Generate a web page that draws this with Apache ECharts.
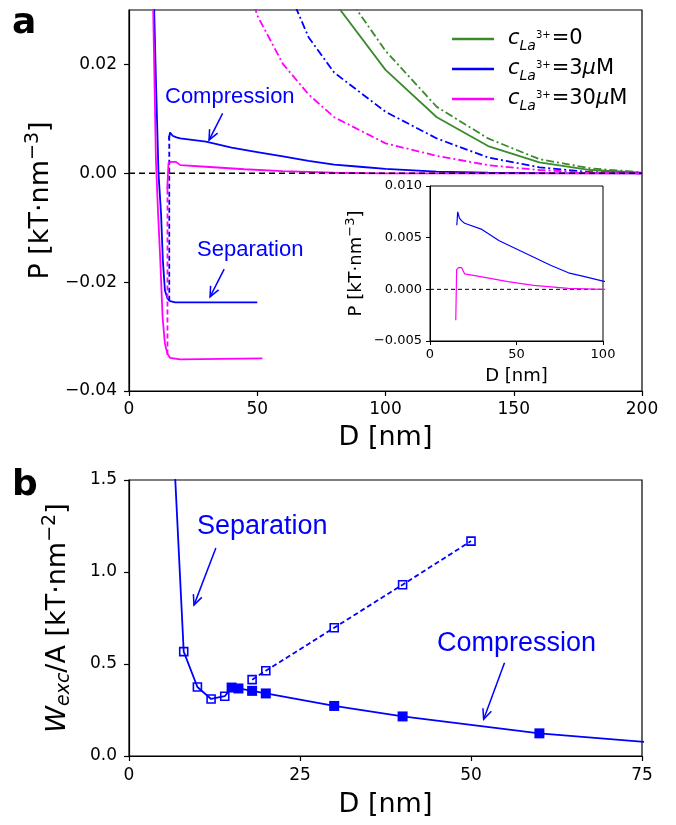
<!DOCTYPE html>
<html><head><meta charset="utf-8">
<script src="https://cdn.jsdelivr.net/npm/echarts@6/dist/echarts.min.js"></script>
<style>html,body{margin:0;padding:0;background:#fff}#c{width:676px;height:825px}</style>
</head><body><div id="c"></div>
<script>
// ---------- data: panel a (pressure P vs separation D) ----------
const aXTicks = [0, 50, 100, 150, 200];
const aYTicks = [-0.04, -0.02, 0, 0.02];
const insetXTicks = [0, 50, 100];
const insetYTicks = [-0.005, 0, 0.005, 0.010];

const greenSolidD = [80, 100, 120, 140, 160, 180, 200];
const greenSolidP = [0.0315, 0.019, 0.0103, 0.005, 0.002, 0.0006, 0.0001];
const greenDashD = [80, 100, 120, 140, 160, 180, 200];
const greenDashP = [0.036, 0.0225, 0.0122, 0.0064, 0.0026, 0.0009, 0.0002];
const blueDashD = [60, 70, 80, 100, 120, 140, 160, 180, 200];
const blueDashP = [0.036, 0.025, 0.0185, 0.0113, 0.0064, 0.0029, 0.0011, 0.0002, 0];
const magDashD = [40, 50, 60, 70, 80, 100, 120, 140, 160, 180, 200];
const magDashP = [0.045, 0.029, 0.0201, 0.0145, 0.0103, 0.0055, 0.0032, 0.0015, 0.0006, 0.0001, 0];

const blueCompD = [15.5, 16, 17, 18.5, 20, 30, 40, 50, 60, 70, 80, 90, 100, 120, 140, 160, 200];
const blueCompP = [0.0062, 0.0075, 0.0069, 0.0066, 0.0064, 0.0058, 0.0047, 0.0039, 0.0031, 0.0023, 0.0016, 0.0012, 0.0008, 0.0003, 0.0001, 0.00003, 0];
const magCompD = [14.9, 15.4, 16.5, 18.3, 20, 30, 45, 60, 80, 100, 200];
const magCompP = [-0.003, 0.0019, 0.0021, 0.0021, 0.0015, 0.0012, 0.00074, 0.00038, 0.0001, 0, 0];

const blueSepD = [9.5, 10.5, 11.5, 12.5, 13.2, 14, 15, 16, 18, 50];
const blueSepP = [0.036, 0.017, 0.0, -0.0075, -0.016, -0.0215, -0.023, -0.0235, -0.0237, -0.0237];
const magSepD = [9.2, 10.5, 11.3, 12.2, 13.1, 14, 15, 16, 20, 52];
const magSepP = [0.036, 0.0024, -0.007, -0.016, -0.0265, -0.0313, -0.0332, -0.0339, -0.0342, -0.034];

const blueJumpD = [15.7, 15.7];
const blueJumpP = [0.0069, -0.0234];
const magJumpD = [15.0, 15.0];
const magJumpP = [-0.003, -0.0339];

// ---------- data: panel b (W_exc/A vs D) ----------
const bXTicks = [0, 25, 50, 75];
const bYTicks = [0, 0.5, 1.0, 1.5];
const sepD = [6, 8, 10, 12, 14, 18, 20, 30, 40, 50];
const sepW = [2.08, 0.567, 0.375, 0.31, 0.325, 0.415, 0.463, 0.697, 0.931, 1.168];
const compD = [15, 16, 18, 20, 30, 40, 60, 80];
const compW = [0.372, 0.367, 0.354, 0.340, 0.272, 0.215, 0.123, 0.063];

// ---------- styling ----------
const BLUE = '#0000ff', MAG = '#ff00ff', GREEN = '#3b8a2c';
const FONT = 'DejaVu Sans';
const DASHDOT = [8, 3, 2, 3];
const DASHED = [5, 3];
const TICK_FS = 17, TITLE_FS = 27;

function pairs(xs, ys) { return xs.map((x, i) => [x, ys[i]]); }
function minus(s) { return s.replace('-', '\u2212'); }

function line(name, xs, ys, color, type, g, width) {
  return {
    type: 'line', name: name, xAxisIndex: g, yAxisIndex: g, data: pairs(xs, ys),
    symbol: 'none', showSymbol: false, clip: true, silent: true, animation: false,
    itemStyle: { color: color },
    lineStyle: { color: color, width: width || 1.8, type: type || 'solid' }
  };
}

function axisDef(ticks, fmt, fs, margin, tickLen, lw) {
  return {
    axisLine: { show: true, onZero: false, lineStyle: { color: '#000', width: lw } },
    axisTick: { show: true, inside: false, length: tickLen, lineStyle: { color: '#000', width: lw }, customValues: ticks },
    axisLabel: { color: '#000', fontFamily: FONT, fontSize: fs, margin: margin, formatter: fmt, customValues: ticks },
    splitLine: { show: false }
  };
}

const chart = echarts.init(document.getElementById('c'), null, { renderer: 'canvas' });

const fmt2 = v => minus(v.toFixed(2));
const fmt3 = v => minus(v.toFixed(3));
const fmt1 = v => v.toFixed(1);
const fmt0 = v => String(v);

const nameStyle = (fs) => ({
  fontFamily: FONT, fontSize: fs, color: '#000',
  rich: {
    t: { fontFamily: FONT, fontSize: fs, color: '#000', lineHeight: fs + 6, verticalAlign: 'middle' },
    it: { fontFamily: FONT, fontSize: fs, fontStyle: 'italic', color: '#000', lineHeight: fs + 6, verticalAlign: 'middle' },
    sup: { fontFamily: FONT, fontSize: Math.round(fs * 0.7), color: '#000', lineHeight: fs, verticalAlign: 'top' },
    sub: { fontFamily: FONT, fontSize: Math.round(fs * 0.7), fontStyle: 'italic', color: '#000', lineHeight: Math.round(fs * 0.7), verticalAlign: 'bottom' }
  }
});

const legendRich = {
  c: { fontFamily: FONT, fontSize: 21, fontStyle: 'italic', color: '#000', lineHeight: 28, verticalAlign: 'middle' },
  sub: { fontFamily: FONT, fontSize: 14, fontStyle: 'italic', color: '#000', lineHeight: 14, verticalAlign: 'bottom' },
  sup: { fontFamily: FONT, fontSize: 10, color: '#000', lineHeight: 12, verticalAlign: 'top', padding: [5, 1, 0, 0] },
  n: { fontFamily: FONT, fontSize: 21, color: '#000', lineHeight: 28, verticalAlign: 'middle' },
  mu: { fontFamily: FONT, fontSize: 21, fontStyle: 'italic', color: '#000', lineHeight: 28, verticalAlign: 'middle' }
};
const legendText = {
  c0: '{c|c}{sub|La}{sup|3+}{n|=0}',
  c3: '{c|c}{sub|La}{sup|3+}{n|=3}{mu|\u03bc}{n|M}',
  c30: '{c|c}{sub|La}{sup|3+}{n|=30}{mu|\u03bc}{n|M}'
};

// panel b series data with per-point markers
const openStyle = { color: 'rgba(0,0,0,0)', borderColor: BLUE, borderWidth: 1.6 };
const solidData = [];
sepD.forEach((d, i) => { if (d <= 14) solidData.push({ value: [d, sepW[i]], symbol: 'rect', symbolSize: 8, itemStyle: openStyle }); });
compD.forEach((d, i) => { solidData.push({ value: [d, compW[i]], symbol: 'rect', symbolSize: 10, itemStyle: { color: BLUE } }); });
const dashData = [];
sepD.forEach((d, i) => { if (d > 14) dashData.push({ value: [d, sepW[i]], symbol: 'rect', symbolSize: 8, itemStyle: openStyle }); });

const option = {
  animation: false,
  backgroundColor: '#fff',
  grid: [
    { left: 129, top: 10, width: 513, height: 381, show: true, borderColor: '#000', borderWidth: 1.2, backgroundColor: 'rgba(0,0,0,0)', containLabel: false },
    { left: 430, top: 186, width: 173, height: 155, show: true, borderColor: '#000', borderWidth: 1, backgroundColor: '#fff', containLabel: false },
    { left: 129, top: 480, width: 513, height: 276, show: true, borderColor: '#000', borderWidth: 1.2, backgroundColor: 'rgba(0,0,0,0)', containLabel: false }
  ],
  xAxis: [
    Object.assign({ type: 'value', gridIndex: 0, min: 0, max: 200, interval: 50,
      name: 'D [nm]', nameLocation: 'middle', nameGap: 33, nameTextStyle: nameStyle(TITLE_FS) },
      axisDef(aXTicks, fmt0, TICK_FS, 10, 5, 1.2)),
    Object.assign({ type: 'value', gridIndex: 1, min: 0, max: 100, interval: 50,
      name: 'D [nm]', nameLocation: 'middle', nameGap: 26, nameTextStyle: nameStyle(18) },
      axisDef(insetXTicks, fmt0, 13, 7, 4, 1)),
    Object.assign({ type: 'value', gridIndex: 2, min: 0, max: 75, interval: 25,
      name: 'D [nm]', nameLocation: 'middle', nameGap: 35, nameTextStyle: nameStyle(TITLE_FS) },
      axisDef(bXTicks, fmt0, TICK_FS, 11, 5, 1.2))
  ],
  yAxis: [
    Object.assign({ type: 'value', gridIndex: 0, min: -0.04, max: 0.03, interval: 0.02,
      name: '{t|P [kT\u00b7nm}{sup|\u22123}{t|]}', nameLocation: 'middle', nameRotate: 90, nameGap: 68,
      nameTextStyle: nameStyle(TITLE_FS) },
      axisDef(aYTicks, fmt2, TICK_FS, 12, 5, 1.2)),
    Object.assign({ type: 'value', gridIndex: 1, min: -0.005, max: 0.010, interval: 0.005,
      name: '{t|P [kT\u00b7nm}{sup|\u22123}{t|]}', nameLocation: 'middle', nameRotate: 90, nameGap: 62,
      nameTextStyle: nameStyle(18) },
      axisDef(insetYTicks, fmt3, 13, 8, 4, 1)),
    Object.assign({ type: 'value', gridIndex: 2, min: 0, max: 1.5, interval: 0.5,
      name: '{it|W}{sub|exc}{t|/A [kT\u00b7nm}{sup|\u22122}{t|]}', nameLocation: 'middle', nameRotate: 90, nameGap: 55,
      nameTextStyle: nameStyle(TITLE_FS) },
      axisDef(bYTicks, fmt1, TICK_FS, 12, 5, 1.2))
  ],
  legend: {
    show: true, orient: 'vertical', left: 447, top: 20, itemGap: 2,
    icon: 'rect', itemWidth: 42, itemHeight: 2.5,
    data: ['c0', 'c3', 'c30'],
    formatter: name => legendText[name],
    textStyle: { color: '#000', fontFamily: FONT, fontSize: 21, padding: [0, 0, 0, 9], rich: legendRich },
    selectedMode: false
  },
  series: [
    line('c0', greenSolidD, greenSolidP, GREEN, 'solid', 0),
    line('c0', greenDashD, greenDashP, GREEN, DASHDOT, 0),
    line('c3', blueCompD, blueCompP, BLUE, 'solid', 0),
    line('c3', blueDashD, blueDashP, BLUE, DASHDOT, 0),
    line('c3', blueSepD, blueSepP, BLUE, 'solid', 0),
    line('c3', blueJumpD, blueJumpP, BLUE, DASHED, 0),
    line('c30', magCompD, magCompP, MAG, 'solid', 0),
    line('c30', magDashD, magDashP, MAG, DASHDOT, 0),
    line('c30', magSepD, magSepP, MAG, 'solid', 0),
    line('c30', magJumpD, magJumpP, MAG, DASHED, 0),
    Object.assign(line('zeroA', [0, 200], [0, 0], '#000', [6, 4], 0, 1.5), { z: 3 }),
    // inset
    line('insetZero', [0, 100], [0, 0], '#000', [4, 3], 1, 1),
    line('insetBlue', blueCompD, blueCompP, BLUE, 'solid', 1, 1.2),
    line('insetMag', magCompD, magCompP, MAG, 'solid', 1, 1.2),
    // panel b
    {
      type: 'line', name: 'Wsolid', xAxisIndex: 2, yAxisIndex: 2, data: solidData,
      showSymbol: true, showAllSymbol: true, clip: true, silent: true,
      itemStyle: { color: BLUE }, lineStyle: { color: BLUE, width: 1.8 }
    },
    {
      type: 'line', name: 'Wdash', xAxisIndex: 2, yAxisIndex: 2, data: dashData,
      showSymbol: true, showAllSymbol: true, clip: true, silent: true,
      itemStyle: { color: BLUE }, lineStyle: { color: BLUE, width: 1.8, type: DASHED }
    }
  ]
};

chart.setOption(option);

// ---------- annotations ----------
function arrow(g, from, to, color, lw) {
  const p0 = chart.convertToPixel({ xAxisIndex: g, yAxisIndex: g }, from);
  const p1 = chart.convertToPixel({ xAxisIndex: g, yAxisIndex: g }, to);
  const ang = Math.atan2(p1[1] - p0[1], p1[0] - p0[0]);
  const L = 11, a = 0.42;
  const h1 = [p1[0] - L * Math.cos(ang - a), p1[1] - L * Math.sin(ang - a)];
  const h2 = [p1[0] - L * Math.cos(ang + a), p1[1] - L * Math.sin(ang + a)];
  return [
    { type: 'polyline', z: 100, silent: true, shape: { points: [p0, p1] }, style: { stroke: color, lineWidth: lw, fill: null } },
    { type: 'polyline', z: 100, silent: true, shape: { points: [h1, p1, h2] }, style: { stroke: color, lineWidth: lw, fill: null } }
  ];
}
function label(text, x, y, fs, color, bold, family) {
  return { type: 'text', z: 100, silent: true, x: x, y: y,
    style: { text: text, fill: color, fontSize: fs, fontFamily: family || 'Liberation Sans', fontWeight: bold ? 'bold' : 'normal', align: 'left', verticalAlign: 'middle' } };
}

const graphics = [].concat(
  label('a', 12, 24, 36, '#000', true, 'DejaVu Sans'),
  label('b', 12, 486, 36, '#000', true, 'DejaVu Sans'),
  label('Compression', 165, 97, 22, BLUE),
  label('Separation', 197, 250, 22, BLUE),
  label('Separation', 197, 527, 27, BLUE),
  label('Compression', 437, 644, 27, BLUE),
  arrow(0, [36.5, 0.0110], [31.2, 0.0061], BLUE, 1.5),
  arrow(0, [37.1, -0.0176], [31.6, -0.0227], BLUE, 1.5),
  arrow(2, [12.7, 1.13], [9.5, 0.82], BLUE, 1.5),
  arrow(2, [54.9, 0.507], [51.85, 0.20], BLUE, 1.5)
);
chart.setOption({ graphic: graphics });
</script>
</body></html>
